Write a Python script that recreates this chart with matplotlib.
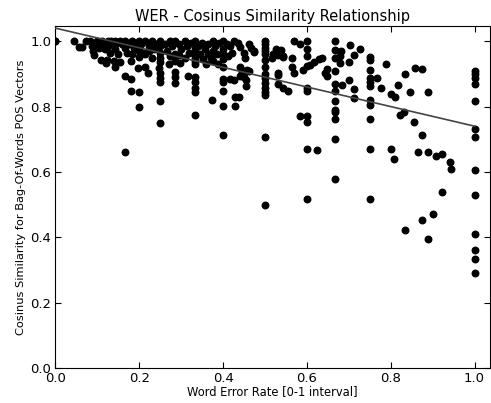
import numpy as np
import matplotlib
matplotlib.use("Agg")
import matplotlib.pyplot as plt

# word error rate (x) and cosine similarity (y)
wer = [
    0.0, 0.0, 0.043, 0.057, 0.063, 0.073, 0.083, 0.087, 0.089, 0.091,
    0.1, 0.1, 0.105, 0.109, 0.111, 0.111, 0.118, 0.121, 0.123, 0.125,
    0.125, 0.13, 0.133, 0.139, 0.141, 0.143, 0.143, 0.143, 0.15, 0.154,
    0.154, 0.158, 0.165, 0.167, 0.167, 0.167, 0.17, 0.176, 0.18, 0.18,
    0.18, 0.182, 0.183, 0.188, 0.19, 0.197, 0.199, 0.2, 0.2, 0.2,
    0.2, 0.2, 0.205, 0.21, 0.213, 0.214, 0.214, 0.221, 0.222, 0.222,
    0.231, 0.231, 0.235, 0.24, 0.246, 0.25, 0.25, 0.25, 0.25, 0.25,
    0.25, 0.25, 0.25, 0.25, 0.25, 0.261, 0.267, 0.27, 0.273, 0.273,
    0.278, 0.286, 0.286, 0.286, 0.286, 0.286, 0.286, 0.294, 0.294, 0.298,
    0.3, 0.308, 0.308, 0.313, 0.317, 0.318, 0.323,
    0.333, 0.333, 0.333, 0.333, 0.333, 0.333, 0.333, 0.333, 0.333, 0.333,
    0.333, 0.333, 0.333,
    0.34, 0.345, 0.35, 0.353, 0.357, 0.36, 0.364, 0.364, 0.37, 0.373,
    0.375, 0.375, 0.375, 0.38, 0.385, 0.389, 0.39,
    0.4, 0.4, 0.4, 0.4, 0.4, 0.4, 0.4, 0.4, 0.4, 0.4,
    0.409, 0.412, 0.417, 0.417, 0.421, 0.425, 0.427, 0.429, 0.429, 0.435,
    0.439, 0.441, 0.441, 0.441, 0.445, 0.449, 0.449, 0.449, 0.453, 0.455,
    0.455, 0.457, 0.461, 0.462, 0.467, 0.473, 0.474,
    0.5, 0.5, 0.5, 0.5, 0.5, 0.5, 0.5, 0.5, 0.5, 0.5,
    0.5, 0.5, 0.5, 0.5, 0.5,
    0.517, 0.519, 0.527, 0.536, 0.539, 0.532, 0.543, 0.544, 0.564, 0.53,
    0.532, 0.53, 0.544, 0.555, 0.564, 0.57, 0.584, 0.6, 0.6, 0.6,
    0.6, 0.59, 0.57, 0.6, 0.6, 0.608, 0.618, 0.63, 0.636, 0.644,
    0.648, 0.647, 0.583, 0.6, 0.6, 0.6, 0.625, 0.6,
    0.667, 0.667, 0.667, 0.667, 0.667, 0.667, 0.667, 0.667, 0.667, 0.667,
    0.667, 0.667,
    0.678, 0.68, 0.682, 0.684, 0.7, 0.7, 0.703, 0.713, 0.713, 0.713,
    0.727,
    0.75, 0.75, 0.75, 0.75, 0.75, 0.75, 0.75, 0.75, 0.75, 0.75,
    0.75,
    0.768, 0.778, 0.788, 0.8, 0.81, 0.817, 0.823, 0.831, 0.833, 0.846,
    0.857, 0.856, 0.875, 0.875, 0.889, 0.8, 0.807, 0.866, 0.889, 0.909,
    0.923, 0.941, 0.944, 0.923, 0.833, 0.875, 0.9, 0.889,
    1.0, 1.0, 1.0, 1.0, 1.0, 1.0, 1.0, 1.0, 1.0, 1.0,
    1.0, 1.0, 1.0,
]
cos_sim = [
    1.0, 1.0, 1.0, 0.983, 0.981, 1.0, 1.0, 0.986, 0.97, 0.957,
    1.0, 0.99, 0.98, 0.942, 1.0, 0.99, 0.975, 0.932, 0.942, 1.0,
    0.985, 0.965, 1.0, 0.94, 0.92, 1.0, 0.99, 0.975, 0.96, 0.935,
    1.0, 0.99, 0.894, 1.0, 0.98, 0.66, 0.965, 0.99, 0.94, 0.884,
    0.848, 1.0, 0.96, 0.98, 0.995, 0.917, 0.846, 0.8, 1.0, 0.98,
    0.952, 0.97, 0.99, 0.965, 0.92, 0.96, 1.0, 0.904, 0.985, 0.97,
    1.0, 0.95, 0.975, 0.99, 0.917, 1.0, 0.985, 0.965, 0.95, 0.935,
    0.904, 0.887, 0.874, 0.817, 0.75, 0.99, 0.97, 0.93, 1.0, 0.955,
    0.985, 1.0, 0.96, 0.94, 0.907, 0.889, 0.871, 0.958, 0.99, 0.932,
    0.975, 1.0, 0.95, 0.985, 0.894, 0.965, 0.995,
    1.0, 0.99, 0.98, 0.97, 0.96, 0.95, 0.94, 0.93, 0.889, 0.874,
    0.858, 0.845, 0.774,
    0.985, 0.96, 0.995, 0.945, 0.975, 0.93, 0.99, 0.96, 0.95, 0.821,
    1.0, 0.97, 0.94, 0.985, 0.96, 0.93, 0.995,
    1.0, 0.975, 0.96, 0.945, 0.92, 0.884, 0.874, 0.848, 0.802, 0.713,
    0.99, 0.955, 0.985, 0.884, 0.965, 1.0, 0.88, 0.828, 0.802, 0.995,
    0.83, 0.981, 0.92, 0.894, 0.907, 0.965, 0.91, 0.891, 0.95, 0.88,
    0.863, 0.911, 0.91, 0.99, 0.98, 0.97, 0.968,
    1.0, 0.99, 0.98, 0.97, 0.96, 0.944, 0.92, 0.901, 0.886, 0.871,
    0.858, 0.845, 0.835, 0.707, 0.5,
    0.948, 0.96, 0.976, 0.97, 0.972, 0.957, 0.952, 0.954, 0.95, 0.904,
    0.896, 0.869, 0.858, 0.847, 0.92, 1.0, 0.99, 1.0, 0.976, 0.954,
    0.925, 0.913, 0.904, 0.858, 0.848, 0.927, 0.935, 0.945, 0.95, 0.904,
    0.894, 0.915, 0.771, 0.771, 0.754, 0.671, 0.667, 0.516,
    1.0, 0.972, 0.948, 0.91, 0.869, 0.849, 0.817, 0.788, 0.782, 0.761,
    0.702, 0.578,
    0.933, 0.954, 0.97, 0.865, 0.937, 0.881, 0.989, 0.959, 0.853, 0.825,
    0.977,
    0.952, 0.944, 0.912, 0.886, 0.874, 0.863, 0.82, 0.804, 0.762, 0.671,
    0.516,
    0.887, 0.857, 0.929, 0.838, 0.828, 0.865, 0.774, 0.782, 0.9, 0.846,
    0.917, 0.754, 0.914, 0.714, 0.844, 0.671, 0.639, 0.662, 0.662, 0.649,
    0.656, 0.631, 0.609, 0.537, 0.422, 0.453, 0.471, 0.394,
    0.908, 0.9, 0.886, 0.868, 0.817, 0.731, 0.707, 0.606, 0.53, 0.409,
    0.36, 0.334, 0.29,
]

# regression line as drawn in the reference (full data set fit)
fit_intercept = 1.04
fit_slope = -0.30
fit_range = [0.0, 1.0]

x = np.array(wer)
y = np.array(cos_sim)

fig = plt.figure(figsize=(4.91, 4.03), dpi=100)
ax = fig.add_axes([0.113, 0.087, 0.885, 0.848])

ax.scatter(x, y, s=22, color="black", zorder=2)
xs = np.array(fit_range)
ax.plot(xs, fit_intercept + fit_slope * xs, color="#444444", linewidth=1.2, zorder=3)

ax.set_xlim(0, 1.037)
ax.set_ylim(0, 1.046)
ax.set_xticks([0.0, 0.2, 0.4, 0.6, 0.8, 1.0])
ax.set_yticks([0.0, 0.2, 0.4, 0.6, 0.8, 1.0])
ax.tick_params(direction="in", top=True, right=True, labelsize=9.5, length=4, pad=3)
ax.set_title("WER - Cosinus Similarity Relationship", fontsize=10.5, pad=4)
ax.set_xlabel("Word Error Rate [0-1 interval]", fontsize=8.3, labelpad=0)
ax.set_ylabel("Cosinus Similarity for Bag-Of-Words POS Vectors", fontsize=8.2, labelpad=3)

fig.savefig("out.png", dpi=100)
